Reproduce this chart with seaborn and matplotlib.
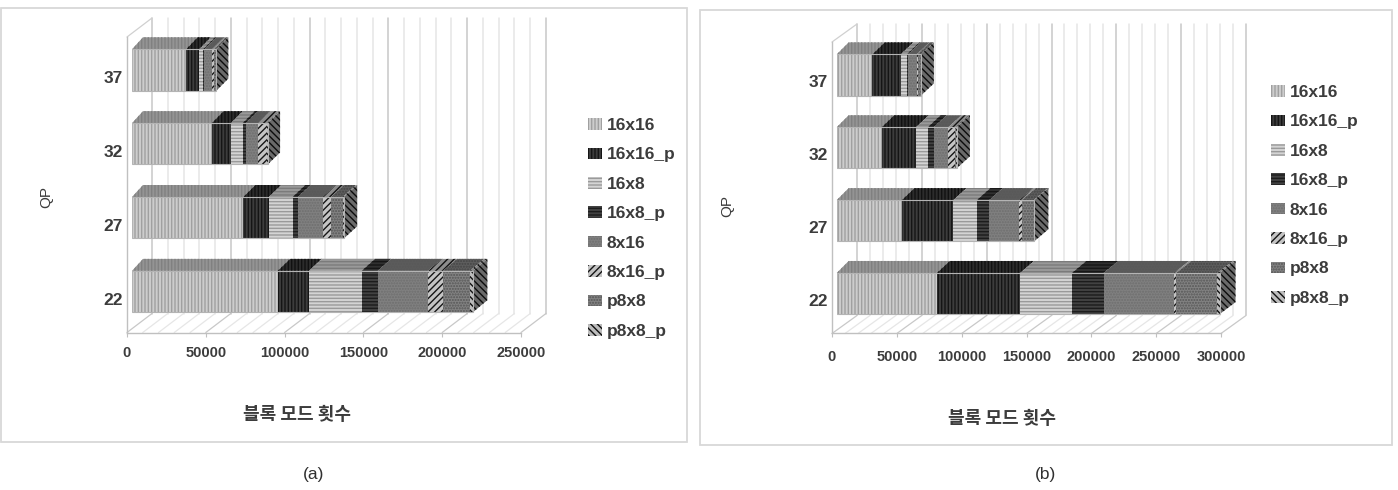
import numpy as np
import matplotlib
matplotlib.use("Agg")
import matplotlib.pyplot as plt
from matplotlib.colors import to_rgb
from matplotlib.patches import Patch, Polygon, Rectangle
from matplotlib.transforms import Affine2D
import seaborn as sns

qp_levels = ["37", "32", "27", "22"]
block_modes = ["16x16", "16x16_p", "16x8", "16x8_p", "8x16", "8x16_p", "p8x8", "p8x8_p"]

# Block mode counts per QP, rows follow qp_levels, columns follow block_modes
counts_a = [
    [34300, 8400, 2500, 800, 4600, 1500, 1300, 200],
    [50600, 12200, 7400, 2100, 7400, 5700, 400, 300],
    [70600, 16300, 15000, 3400, 15700, 5300, 7400, 800],
    [92400, 19900, 33400, 10200, 31900, 9500, 17100, 1900],
]
counts_b = [
    [27500, 21900, 4600, 1000, 6700, 1000, 2100, 200],
    [34700, 26500, 9000, 4600, 11300, 5200, 800, 400],
    [50200, 39800, 18100, 9500, 23200, 2100, 9000, 500],
    [77200, 64300, 39900, 24400, 54100, 1900, 31700, 1800],
]

face_colors = ["#cdcdcd", "#3d3d3d", "#d4d4d4", "#424242", "#808080", "#c4c4c4", "#828282", "#bcbcbc"]
hatch_colors = ["#a0a0a0", "#151515", "#9a9a9a", "#1c1c1c", "#6e6e6e", "#161616", "#565656", "#101010"]
hatches = ["|||||", "|||||", "-----", "-----", "......", "/////", "......", "\\\\\\\\\\"]

W, H = 1398, 490
TEXT = "#3c3c3c"
LATIN = ["Liberation Sans", "Noto Sans CJK KR", "DejaVu Sans"]
HANGUL = ["Noto Sans CJK KR", "DejaVu Sans"]

sns.set_theme(style="white")
plt.rcParams["font.family"] = LATIN
plt.rcParams["hatch.linewidth"] = 1.0

fig = plt.figure(figsize=(W / 100, H / 100), dpi=100, facecolor="white")
# Pixel coordinates measured from the top-left corner of the figure
px = Affine2D().scale(1 / W, -1 / H).translate(0, 1) + fig.transFigure


def axes_from_pixels(left, top, right, bottom, **kw):
    return fig.add_axes([left / W, 1 - bottom / H, (right - left) / W, (bottom - top) / H], **kw)


def shade(color, factor):
    return tuple(c * factor for c in to_rgb(color))


def draw_panel(counts, xmax, frame, wall, depth, bar_shift, bar_depth, width,
               legend_xy, qp_xy, label_xy, caption_xy, caption, tick_pad):
    fx0, fy0, fx1, fy1 = frame
    fig.add_artist(Rectangle((fx0, fy0), fx1 - fx0, fy1 - fy0, transform=px, fill=False,
                             edgecolor="#d8d8d8", linewidth=1.3))

    left, top, right, bottom = wall
    ax = axes_from_pixels(left, top, right, bottom, facecolor="none")
    ax.set_xlim(0, xmax)
    ax.set_ylim(len(qp_levels) - 0.5, -0.5)

    # Gridlines on the back wall and across the floor, one every 10000 counts
    to_back = ax.transData + Affine2D().translate(depth[0], depth[1])
    floor_y = len(qp_levels) - 0.5
    disp_floor = ax.transData.transform((0, floor_y))[1]
    disp_top = ax.transData.transform((0, -0.5))[1]
    for v in np.arange(0, xmax + 1, 10000):
        col = "#c8c8c8" if v % 50000 == 0 else "#e6e6e6"
        ax.plot([v, v], [floor_y, -0.5], transform=to_back, color=col, lw=1.1, clip_on=False, zorder=1)
        x_front = ax.transData.transform((v, floor_y))[0]
        ax.add_line(plt.Line2D([x_front, x_front + depth[0]], [disp_floor, disp_floor + depth[1]],
                               transform=Affine2D(), color=col, lw=0.9, clip_on=False, zorder=1))
    x0 = ax.transData.transform((0, floor_y))[0]
    ax.add_line(plt.Line2D([x0, x0 + depth[0]], [disp_top, disp_top + depth[1]],
                           transform=Affine2D(), color="#d0d0d0", lw=0.9, clip_on=False, zorder=1))

    sns.despine(ax=ax, top=True, right=True)
    for side in ("left", "bottom"):
        ax.spines[side].set_color("#c0c0c0")
        ax.spines[side].set_linewidth(1.0)
    ax.set_xticks(np.arange(0, xmax + 1, 50000))
    ax.set_xticklabels([str(v) for v in np.arange(0, xmax + 1, 50000)], fontsize=10.5,
                       fontweight="bold", color=TEXT)
    ax.tick_params(axis="x", length=3, width=0.8, color="#c0c0c0", pad=tick_pad, bottom=True)
    ax.set_yticks(range(len(qp_levels)))
    ax.set_yticklabels(qp_levels, fontsize=12.5, fontweight="bold", color=TEXT)
    ax.tick_params(axis="y", length=0, pad=3, left=False)
    for lab in ax.get_yticklabels():
        lab.set_transform(lab.get_transform() + Affine2D().translate(0, -3))

    ax.set_ylabel("QP", fontsize=11, color=TEXT, rotation=90, va="center", ha="center")
    ax.yaxis.set_label_coords(*qp_xy, transform=px)
    ax.set_xlabel("블록 모드 횟수", fontsize=13, fontweight="bold", color=TEXT,
                  family=HANGUL, va="center", ha="center")
    ax.xaxis.set_label_coords(*label_xy, transform=px)

    # The bars stand a little way in from the front of the floor
    bx = axes_from_pixels(left + bar_shift[0], top - bar_shift[1], right + bar_shift[0],
                          bottom - bar_shift[1], facecolor="none")
    bx.set_zorder(ax.get_zorder() + 1)

    values = np.array(counts, dtype=float)
    starts = np.hstack([np.zeros((len(qp_levels), 1)), values.cumsum(axis=1)[:, :-1]])
    for j, mode in enumerate(block_modes):
        sns.barplot(x=values[:, j], y=qp_levels, order=qp_levels, left=starts[:, j], orient="y",
                    color=face_colors[j], saturation=1, width=width, hatch=hatches[j],
                    edgecolor=hatch_colors[j], linewidth=0, ax=bx, zorder=3)
    # Thin outline round each full stack
    sns.barplot(x=values.sum(axis=1), y=qp_levels, order=qp_levels, orient="y", fill=False,
                color="#b4b4b4", width=width, linewidth=0.8, ax=bx, zorder=4)
    bx.set_xlim(0, xmax)
    bx.set_ylim(len(qp_levels) - 0.5, -0.5)
    bx.set_axis_off()

    # Oblique top and end faces of the stacked bars, built from the same counts
    def back_dx(v):
        return bar_depth[0] + bar_depth[1] * v / xmax

    for i in range(len(qp_levels)):
        y_top = bx.transData.transform((0, i - width / 2))[1]
        y_bot = bx.transData.transform((0, i + width / 2))[1]
        for j in range(len(block_modes)):
            a, b = starts[i, j], starts[i, j] + values[i, j]
            xa = bx.transData.transform((a, i))[0]
            xb = bx.transData.transform((b, i))[0]
            top_face = Polygon([(xa, y_top), (xb, y_top), (xb + back_dx(b), y_top + bar_depth[2]),
                                (xa + back_dx(a), y_top + bar_depth[2])], closed=True,
                               transform=Affine2D(), facecolor=shade(face_colors[j], 0.72),
                               edgecolor=shade(hatch_colors[j], 0.8), hatch=hatches[j],
                               linewidth=0, clip_on=False, zorder=2)
            bx.add_patch(top_face)
        end = starts[i, -1] + values[i, -1]
        xe = bx.transData.transform((end, i))[0]
        d = back_dx(end)
        bx.add_patch(Polygon([(xe, y_top), (xe + d, y_top + bar_depth[2]),
                              (xe + d, y_bot + bar_depth[2]), (xe, y_bot)], closed=True,
                             transform=Affine2D(), facecolor="#6a6a6a", edgecolor="#0c0c0c",
                             hatch=hatches[-1], linewidth=0, clip_on=False, zorder=2))

    handles = [Patch(facecolor=face_colors[j], edgecolor=hatch_colors[j], hatch=hatches[j], linewidth=0,
                     label=block_modes[j]) for j in range(len(block_modes))]
    fig.legend(handles=handles, loc="upper left", bbox_to_anchor=legend_xy, bbox_transform=px,
               frameon=False, prop={"size": 12.5, "weight": "bold", "family": LATIN},
               labelcolor=TEXT, handlelength=0.8, handleheight=0.65, handletextpad=0.28,
               labelspacing=0.83, borderaxespad=0, borderpad=0)

    fig.text(*caption_xy, caption, transform=px, fontsize=12.5, color="#303030", ha="center", va="center")


draw_panel(counts_a, 250000, frame=(1, 8, 687, 442), wall=(127, 37, 521, 332.5), depth=(25, 19),
           bar_shift=(5, 4), bar_depth=(11, 4, 12), width=0.56, legend_xy=(588, 118), qp_xy=(46, 197),
           label_xy=(297, 414), caption_xy=(314, 474), caption="(a)", tick_pad=7)
draw_panel(counts_b, 300000, frame=(700, 10, 1392, 445), wall=(832, 42, 1221, 333.5), depth=(25, 18),
           bar_shift=(4.7, 3.5), bar_depth=(12, 4, 12), width=0.565, legend_xy=(1271, 85), qp_xy=(727, 206),
           label_xy=(1002, 418), caption_xy=(1045, 474), caption="(b)", tick_pad=9)

fig.savefig("out.png", dpi=100, facecolor="white")
